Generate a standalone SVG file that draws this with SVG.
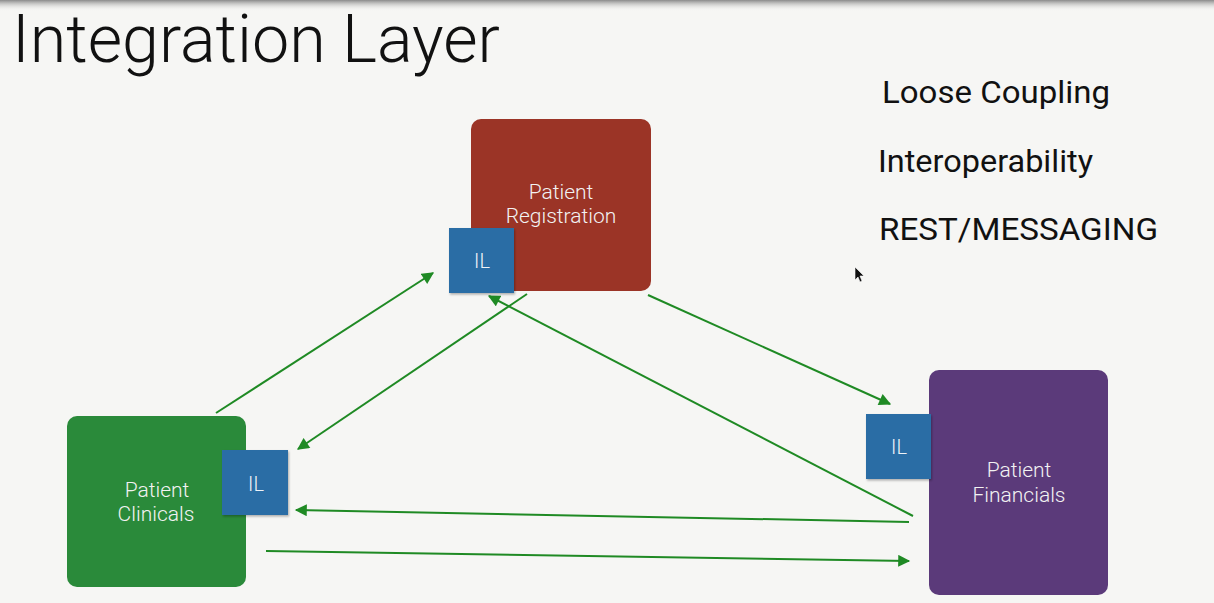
<svg xmlns="http://www.w3.org/2000/svg" width="1214" height="603" viewBox="0 0 1214 603">
  <defs>
    <linearGradient id="topShade" x1="0" y1="0" x2="0" y2="1">
      <stop offset="0" stop-color="#8a8a8a"/>
      <stop offset="1" stop-color="#f6f6f4" stop-opacity="0"/>
    </linearGradient>
    <marker id="arrow" viewBox="0 0 10 10" refX="9" refY="5" markerWidth="6.5" markerHeight="6" orient="auto" markerUnits="strokeWidth">
      <path d="M0,0 L10,5 L0,10 z" fill="#1f8a24"/>
    </marker>
    <filter id="shadow" x="-10%" y="-10%" width="130%" height="130%">
      <feDropShadow dx="1" dy="1.5" stdDeviation="1.2" flood-color="#000" flood-opacity="0.3"/>
    </filter>
  </defs>
  <style>
    .label { font-family: Roboto, "Liberation Sans", sans-serif; font-weight: 300; }
    .title { font-size: 66px; fill: #111; }
    .point { font-size: 31px; fill: #111; font-weight: 400; }
    .boxtext { font-size: 21px; fill: #f2f2f2; text-anchor: middle; }
    .iltext { font-size: 20px; fill: #eef3f8; text-anchor: middle; }
    .il { fill: #2a6da5; filter: url(#shadow); }
    .conn { stroke: #1f8a24; stroke-width: 2; fill: none; marker-end: url(#arrow); }
  </style>

  <!-- background -->
  <rect x="0" y="0" width="1214" height="603" fill="#f6f6f4"/>
  <rect x="0" y="0" width="1214" height="11" fill="url(#topShade)"/>

  <!-- heading and key points -->
  <text class="label title" x="12" y="62" textLength="488" lengthAdjust="spacingAndGlyphs">Integration Layer</text>
  <text class="label point" x="882" y="103" textLength="228" lengthAdjust="spacingAndGlyphs">Loose Coupling</text>
  <text class="label point" x="878" y="172" textLength="215" lengthAdjust="spacingAndGlyphs">Interoperability</text>
  <text class="label point" x="879" y="240" textLength="279" lengthAdjust="spacingAndGlyphs">REST/MESSAGING</text>

  <!-- connectors -->
  <g id="connectors">
    <line class="conn" x1="216" y1="413" x2="433" y2="273"/>
    <line class="conn" x1="527" y1="294" x2="298" y2="449"/>
    <line class="conn" x1="913" y1="516" x2="489" y2="296"/>
    <line class="conn" x1="648" y1="295" x2="890" y2="404"/>
    <line class="conn" x1="909" y1="522" x2="296" y2="510"/>
    <line class="conn" x1="266" y1="551" x2="909" y2="561"/>
  </g>

  <!-- Patient Registration -->
  <g id="patient-registration">
    <rect x="471" y="119" width="180" height="172" rx="10" fill="#9b3426"/>
    <text class="label boxtext" x="561" y="199">Patient</text>
    <text class="label boxtext" x="561" y="223">Registration</text>
    <rect class="il" x="449" y="228" width="65" height="65"/>
    <text class="label iltext" x="482" y="268">IL</text>
  </g>

  <!-- Patient Clinicals -->
  <g id="patient-clinicals">
    <rect x="67" y="416" width="179" height="171" rx="10" fill="#2a8a3a"/>
    <text class="label boxtext" x="157" y="497">Patient</text>
    <text class="label boxtext" x="156" y="521">Clinicals</text>
    <rect class="il" x="222" y="450" width="66" height="65"/>
    <text class="label iltext" x="256" y="491">IL</text>
  </g>

  <!-- Patient Financials -->
  <g id="patient-financials">
    <rect x="929" y="370" width="179" height="225" rx="10" fill="#5b3a7a"/>
    <text class="label boxtext" x="1019" y="477">Patient</text>
    <text class="label boxtext" x="1019" y="502">Financials</text>
    <rect class="il" x="866" y="414" width="65" height="65"/>
    <text class="label iltext" x="899" y="454">IL</text>
  </g>

  <!-- pointer -->
  <path d="M855,267 L855,280 L858,277 L860,282 L862,281 L860,276 L864,276 z" fill="#111" stroke="#fff" stroke-width="0.6"/>
</svg>
